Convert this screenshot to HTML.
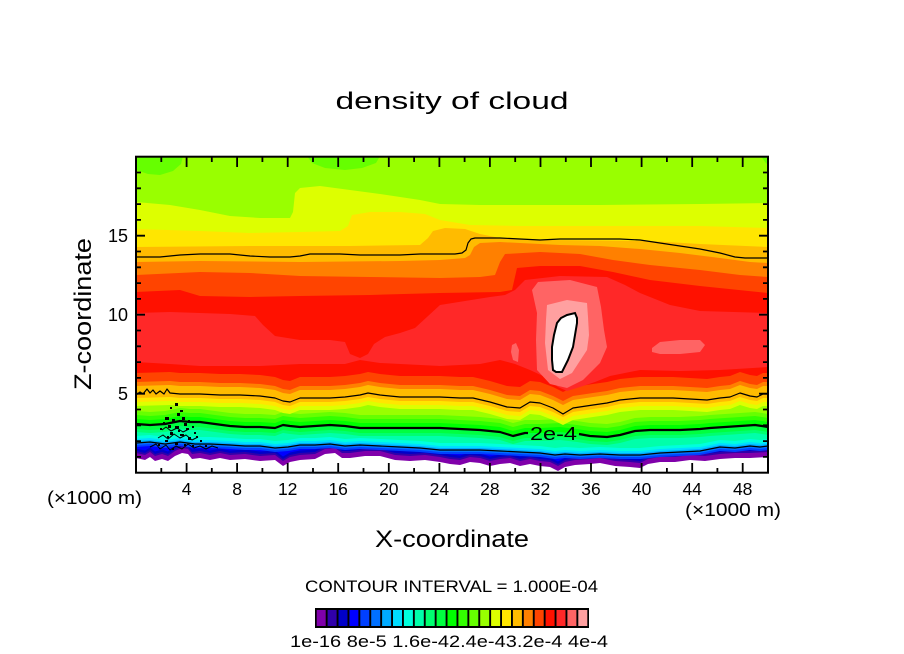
<!DOCTYPE html>
<html>
<head>
<meta charset="utf-8">
<style>
html,body{margin:0;padding:0;background:#fff;}
svg{display:block;}
text{font-family:"Liberation Sans",sans-serif;fill:#000;}
</style>
</head>
<body>
<svg width="904" height="654" viewBox="0 0 904 654" xmlns="http://www.w3.org/2000/svg">
<defs>
  <clipPath id="plot"><rect x="136" y="156.7" width="632" height="316"/></clipPath>
  <path id="a0" d="M136,-50 L136,458 145,460 150,457 155,461 162,459 168,461 175,456 182,453 188,454 192,459 200,458 210,460 220,458 230,460 245,459 260,461 275,460 283,466 290,462 300,460 315,459 325,454 335,453 342,458 350,458 365,456 380,456 395,460 410,461 425,460 440,462 450,464 460,465 470,462 480,463 490,466 500,464 510,463 520,466 530,464 540,466 550,467 558,471 565,467 575,465 590,464 600,463 615,466 630,467 640,468 648,464 660,462 675,462 690,460 705,461 720,459 735,458 750,458 768,457 L768,-50 Z"/>
  <path id="a1" d="M136,-50 L136,443 150,442 165,444 180,442 195,444 210,444 230,445 245,446 260,446 275,448 288,447 300,445 315,445 330,444 345,446 360,445 380,446 400,447 420,448 440,450 460,450 480,450 500,451 520,452 540,453 555,455 565,454 580,455 600,454 620,455 640,455 660,453 680,452 700,451 710,449 720,447 735,448 750,446 760,447 768,446 L768,-50 Z"/>
  <path id="a2" d="M136,-50 L136,424 150,425 165,424 180,421 190,422 200,422 215,424 230,426 245,427 260,427 275,428 283,425 290,426 300,427 315,426 330,425 345,426 360,428 380,428 400,428 420,428 440,428 460,429 480,430 500,432 513,436 525,433 540,433 560,432 577,434 590,436 607,437 620,435 635,431 650,430 680,430 700,429 710,428 725,427 740,426 755,425 762,426 768,427 L768,-50 Z"/>
  <path id="a3" d="M136,-50 L136,394 170,393 180,394 200,394 220,395 240,395 260,396 275,398 283,401 290,402 300,398 315,398 330,398 345,397 360,395 368,393 380,395 400,397 420,397 440,397 460,398 473,398 490,402 507,407 520,408 530,402 540,403 553,408 563,413 573,408 593,405 607,403 620,400 640,398 673,398 690,399 707,400 720,398 730,397 740,393 750,396 757,397 763,394 768,394 L768,-50 Z"/>
  <clipPath id="t17"><path d="M136,700 L136,202 170,205 200,210 230,216 260,218 290,218 293,212 295,193 300,188 320,186 350,190 380,194 420,200 440,204 480,205 600,205 700,204 768,203 L768,700 Z"/></clipPath>
  <clipPath id="t18"><path d="M136,700 L136,229 200,231 250,233 300,232 340,231 348,226 352,215 370,212 400,212 425,214 440,220 470,225 520,226 600,226 700,226 768,228 L768,700 Z"/></clipPath>
  <clipPath id="t19"><path d="M136,700 L136,247 250,246 350,246 420,245 428,238 433,231 445,228 465,229 480,234 500,238 550,240 650,241 700,244 768,247 L768,700 Z"/></clipPath>
  <clipPath id="t20"><path d="M136,700 L136,262 200,261 300,262 400,261 440,260 465,258 470,255 474,247 480,243 500,242 520,243 560,245 600,246 640,249 680,253 720,258 750,262 768,263 L768,700 Z"/></clipPath>
  <clipPath id="t21"><path d="M136,700 L136,275 200,272 250,273 300,276 370,277 440,278 480,277 495,275 500,262 505,254 540,252 580,254 613,260 650,265 700,270 740,275 768,277 L768,700 Z"/></clipPath>
  <clipPath id="t22"><path d="M136,700 L136,292 180,290 200,296 250,297 300,296 370,295 440,293 500,292 512,290 517,268 540,266 580,266 613,272 650,280 700,286 768,293 L768,700 Z"/></clipPath>
</defs>

<!-- Title -->
<text x="452" y="109" font-size="24" text-anchor="middle" textLength="233" lengthAdjust="spacingAndGlyphs">density of cloud</text>

<g clip-path="url(#plot)">
  <rect x="136" y="150" width="640" height="330" fill="#fff"/>
  <use href="#a0" fill="#8000AA"/>
  <use href="#a0" transform="translate(0,-5)" fill="#3000AA"/>
  <use href="#a0" transform="translate(0,-7)" fill="#0000C8"/>
  <use href="#a0" transform="translate(0,-9.5)" fill="#0000FF"/>
  <use href="#a1" transform="translate(0,4)" fill="#0040FF"/>
  <use href="#a1" transform="translate(0,2)" fill="#0070FF"/>
  <use href="#a1" transform="translate(0,0.5)" fill="#00AAFF"/>
  <use href="#a1" transform="translate(0,-2)" fill="#00DDFF"/>
  <use href="#a1" transform="translate(0,-4)" fill="#00FFDD"/>
  <use href="#a1" transform="translate(0,-7)" fill="#00FFAA"/>
  <use href="#a2" transform="translate(0,8)" fill="#00FF70"/>
  <use href="#a2" transform="translate(0,5)" fill="#00FF40"/>
  <use href="#a2" fill="#00FF00"/>
  <use href="#a2" transform="translate(0,-5)" fill="#33FF00"/>
  <use href="#a2" transform="translate(0,-9)" fill="#66FF00"/>
  <use href="#a2" transform="translate(0,-13)" fill="#99FF00"/>
  <!-- top blobs -->
  <polygon points="136,156 183,156 181,164 173,171 160,175 148,174 136,170" fill="#66FF00"/>
  <polygon points="307,156 380,156 376,163 362,168 345,170 325,168 312,163" fill="#66FF00"/>
  <polygon points="761,156 769,156 769,166 765,162" fill="#66FF00"/>

  <g clip-path="url(#t17)"><use href="#a3" transform="translate(0,12)" fill="#DDFF00"/></g>
  <g clip-path="url(#t18)"><use href="#a3" transform="translate(0,8)" fill="#FFE600"/></g>
  <g clip-path="url(#t19)"><use href="#a3" transform="translate(0,4)" fill="#FFBB00"/></g>
  <g clip-path="url(#t20)"><use href="#a3" transform="translate(0,-8)" fill="#FF8000"/></g>
  <g clip-path="url(#t21)"><use href="#a3" transform="translate(0,-12)" fill="#FF4400"/></g>
  <g clip-path="url(#t22)"><use href="#a3" transform="translate(0,-21)" fill="#FF1100"/></g>

  <path d="M136,313 L170,312 200,313 230,314 255,316 263,325 275,336 300,340 330,340 345,342 350,354 360,358 368,354 374,344 385,337 400,333 415,328 440,305 490,297 505,295 515,290 525,280 560,276 607,277 625,285 640,293 670,305 700,311 768,313 L768,367 720,370 680,371 640,370 610,376 595,382 580,387 567,391 558,387 545,377 530,370 515,364 500,360 480,364 440,366 380,363 360,360 345,364 300,364 260,366 200,366 170,364 136,362 Z" fill="#FF2828"/>

  <!-- pink -->
  <polygon points="532,290 538,282 570,280 597,287 601,307 604,330 607,347 600,363 583,380 567,388 550,384 537,370 536,340 537,313" fill="#FF6464"/>
  <polygon points="512,345 516,343 519,350 518,362 513,360 511,352" fill="#FF6464"/>
  <polygon points="652,348 660,342 680,340 700,340 705,345 700,352 680,354 660,354 652,352" fill="#FF6464"/>
  <polygon points="547,305 567,300 587,303 588,317 589,335 587,350 572,373 560,379 548,370 545,343 546,320" fill="#FFA0A0"/>
  <polygon points="567,315 575,313 577,318 577,323 575,335 573,347 568,360 562,372 556,372 553,370 552,360 552,347 554,335 557,323 561,318" fill="#fff" stroke="#000" stroke-width="2"/>

  <!-- contour lines -->
  <g fill="none" stroke="#000" stroke-linejoin="round">
    <polyline stroke-width="1.2" points="136,257 160,257 170,256 180,255 200,254 230,254 250,256 270,257 290,257 300,256 310,254 340,254 360,255 380,255 400,255 420,254 440,254 455,254 462,253 466,250 468,243 471,239 475,238 500,238 520,239 540,240 560,239 600,239 620,239 640,240 660,243 680,246 700,249 720,253 735,257 745,258 768,258"/>
    <polyline stroke-width="1.2" points="136,395 140,392 143,394 147,389 150,393 153,390 156,394 160,391 164,394 167,389 170,393 180,394 200,394 220,395 240,395 260,396 275,398 283,401 290,402 300,398 315,398 330,398 345,397 360,395 368,393 380,395 400,397 420,397 440,397 460,398 473,398 490,402 507,407 520,408 530,402 540,403 553,408 563,414 573,408 593,405 607,403 620,400 640,398 673,398 690,399 707,400 720,398 730,397 740,393 750,396 757,397 763,394 768,394"/>
    <polyline stroke-width="2.2" points="136,424 150,425 165,424 180,421 190,422 200,422 215,424 230,426 245,427 260,427 275,428 283,425 290,426 300,427 315,426 330,425 345,426 360,428 380,428 400,428 420,428 440,428 460,429 480,430 500,432 513,436 525,433 528,433"/>
    <polyline stroke-width="2.2" points="579,434 590,436 607,437 620,435 635,431 650,430 680,430 700,429 710,428 725,427 740,426 755,425 762,426 768,427"/>
    <polyline stroke-width="1.2" points="136,443 150,442 165,444 180,442 195,444 210,444 230,445 245,446 260,446 275,448 288,447 300,445 315,445 330,444 345,446 360,445 380,446 400,447 420,448 440,450 460,450 480,450 500,451 520,452 540,453 555,455 565,454 580,455 600,454 620,455 640,455 660,453 680,452 700,451 710,449 720,447 735,448 750,446 760,447 768,446"/>
    <!-- noisy contour fragments -->
    <polyline stroke-width="1" points="150,447 156,444 160,449 166,445 170,450 176,446 182,449 188,444 194,448 200,446 206,449 212,446 218,448"/>
    <polyline stroke-width="1" points="158,438 163,435 168,439 174,434 180,438 186,435 192,440 198,437"/>
    <polyline stroke-width="1" points="162,430 166,427 171,431 177,428 183,432 189,429"/>
  </g>
  <!-- noise dots -->
  <g fill="#000">
    <rect x="175" y="403" width="3" height="3"/><rect x="170" y="407" width="2" height="2"/><rect x="180" y="410" width="3" height="2"/>
    <rect x="165" y="417" width="4" height="3"/><rect x="172" y="419" width="3" height="3"/><rect x="182" y="417" width="3" height="3"/>
    <rect x="188" y="420" width="2" height="2"/><rect x="168" y="425" width="3" height="3"/><rect x="175" y="426" width="4" height="3"/>
    <rect x="186" y="428" width="3" height="2"/><rect x="192" y="426" width="2" height="2"/><rect x="160" y="428" width="2" height="2"/>
    <rect x="170" y="432" width="3" height="3"/><rect x="180" y="434" width="4" height="2"/><rect x="188" y="437" width="3" height="3"/>
    <rect x="196" y="436" width="2" height="2"/><rect x="165" y="440" width="3" height="2"/><rect x="175" y="442" width="3" height="3"/>
    <rect x="184" y="444" width="2" height="2"/><rect x="158" y="444" width="2" height="2"/><rect x="192" y="445" width="2" height="2"/>
    <rect x="200" y="440" width="2" height="2"/><rect x="172" y="448" width="2" height="2"/><rect x="205" y="445" width="2" height="2"/>
    <rect x="177" y="413" width="3" height="3"/><rect x="163" y="422" width="2" height="2"/><rect x="184" y="423" width="3" height="3"/>
    <rect x="178" y="430" width="2" height="2"/><rect x="167" y="436" width="2" height="2"/><rect x="194" y="432" width="2" height="2"/>
  </g>
  <text x="553.5" y="440" font-size="18" text-anchor="middle" textLength="47" lengthAdjust="spacingAndGlyphs">2e-4</text>
</g>

<!-- frame -->
<rect x="136" y="156.7" width="632" height="316" fill="none" stroke="#000" stroke-width="2"/>
<!-- ticks -->
<path fill="none" stroke="#000" stroke-width="1.8" d="
M186.6,157v10M237.1,157v10M287.7,157v10M338.2,157v10M388.8,157v10M439.4,157v10M489.9,157v10M540.5,157v10M591,157v10M641.6,157v10M692.2,157v10M742.7,157v10
M161.3,157v5M211.8,157v5M262.4,157v5M313,157v5M363.5,157v5M414.1,157v5M464.6,157v5M515.2,157v5M565.8,157v5M616.3,157v5M666.9,157v5M717.4,157v5
M186.6,473v-10M237.1,473v-10M287.7,473v-10M338.2,473v-10M388.8,473v-10M439.4,473v-10M489.9,473v-10M540.5,473v-10M591,473v-10M641.6,473v-10M692.2,473v-10M742.7,473v-10
M161.3,473v-5M211.8,473v-5M262.4,473v-5M313,473v-5M363.5,473v-5M414.1,473v-5M464.6,473v-5M515.2,473v-5M565.8,473v-5M616.3,473v-5M666.9,473v-5M717.4,473v-5
M136,456.9h5M136,441.1h5M136,425.3h5M136,409.5h5M136,393.7h9M136,377.9h5M136,362.1h5M136,346.3h5M136,330.5h5M136,314.7h9M136,298.9h5M136,283.1h5M136,267.3h5M136,251.5h5M136,235.7h9M136,219.9h5M136,204.1h5M136,188.3h5M136,172.5h5
M768,456.9h-5M768,441.1h-5M768,425.3h-5M768,409.5h-5M768,393.7h-9M768,377.9h-5M768,362.1h-5M768,346.3h-5M768,330.5h-5M768,314.7h-9M768,298.9h-5M768,283.1h-5M768,267.3h-5M768,251.5h-5M768,235.7h-9M768,219.9h-5M768,204.1h-5M768,188.3h-5M768,172.5h-5"/>

<!-- y tick labels -->
<g font-size="18" text-anchor="end">
  <text x="128" y="242">15</text>
  <text x="128" y="321">10</text>
  <text x="128" y="400">5</text>
</g>
<!-- x tick labels -->
<g font-size="17.5" text-anchor="middle">
  <text x="186.6" y="495">4</text>
  <text x="237.1" y="495">8</text>
  <text x="287.7" y="495">12</text>
  <text x="338.2" y="495">16</text>
  <text x="388.8" y="495">20</text>
  <text x="439.4" y="495">24</text>
  <text x="489.9" y="495">28</text>
  <text x="540.5" y="495">32</text>
  <text x="591" y="495">36</text>
  <text x="641.6" y="495">40</text>
  <text x="692.2" y="495">44</text>
  <text x="742.7" y="495">48</text>
</g>
<text x="47" y="504" font-size="18" textLength="95" lengthAdjust="spacingAndGlyphs">(×1000 m)</text>
<text x="685" y="516" font-size="18" textLength="96" lengthAdjust="spacingAndGlyphs">(×1000 m)</text>

<text x="452" y="547" font-size="24" text-anchor="middle" textLength="154" lengthAdjust="spacingAndGlyphs">X-coordinate</text>
<text transform="translate(91,314) rotate(-90)" font-size="24" text-anchor="middle" textLength="152" lengthAdjust="spacingAndGlyphs">Z-coordinate</text>

<text x="305" y="592" font-size="17" textLength="293" lengthAdjust="spacingAndGlyphs">CONTOUR INTERVAL = 1.000E-04</text>

<!-- colorbar -->
<rect x="315" y="608" width="274" height="20" fill="#000"/>
<g>
  <rect x="316.7" y="610" width="9" height="16" fill="#8000AA"/>
  <rect x="327.6" y="610" width="9" height="16" fill="#3000AA"/>
  <rect x="338.5" y="610" width="9" height="16" fill="#0000C8"/>
  <rect x="349.4" y="610" width="9" height="16" fill="#0000FF"/>
  <rect x="360.3" y="610" width="9" height="16" fill="#0040FF"/>
  <rect x="371.2" y="610" width="9" height="16" fill="#0070FF"/>
  <rect x="382.1" y="610" width="9" height="16" fill="#00AAFF"/>
  <rect x="393.0" y="610" width="9" height="16" fill="#00DDFF"/>
  <rect x="403.9" y="610" width="9" height="16" fill="#00FFDD"/>
  <rect x="414.8" y="610" width="9" height="16" fill="#00FFAA"/>
  <rect x="425.7" y="610" width="9" height="16" fill="#00FF70"/>
  <rect x="436.6" y="610" width="9" height="16" fill="#00FF40"/>
  <rect x="447.5" y="610" width="9" height="16" fill="#00FF00"/>
  <rect x="458.4" y="610" width="9" height="16" fill="#33FF00"/>
  <rect x="469.3" y="610" width="9" height="16" fill="#66FF00"/>
  <rect x="480.2" y="610" width="9" height="16" fill="#99FF00"/>
  <rect x="491.1" y="610" width="9" height="16" fill="#DDFF00"/>
  <rect x="502.0" y="610" width="9" height="16" fill="#FFE600"/>
  <rect x="512.9" y="610" width="9" height="16" fill="#FFBB00"/>
  <rect x="523.8" y="610" width="9" height="16" fill="#FF8000"/>
  <rect x="534.7" y="610" width="9" height="16" fill="#FF4400"/>
  <rect x="545.6" y="610" width="9" height="16" fill="#FF1100"/>
  <rect x="556.5" y="610" width="9" height="16" fill="#FF2828"/>
  <rect x="567.4" y="610" width="9" height="16" fill="#FF6464"/>
  <rect x="578.3" y="610" width="9" height="16" fill="#FFA0A0"/>
</g>
<text x="290" y="647" font-size="17" textLength="318" lengthAdjust="spacingAndGlyphs">1e-16 8e-5 1.6e-42.4e-43.2e-4 4e-4</text>
</svg>
</body>
</html>
